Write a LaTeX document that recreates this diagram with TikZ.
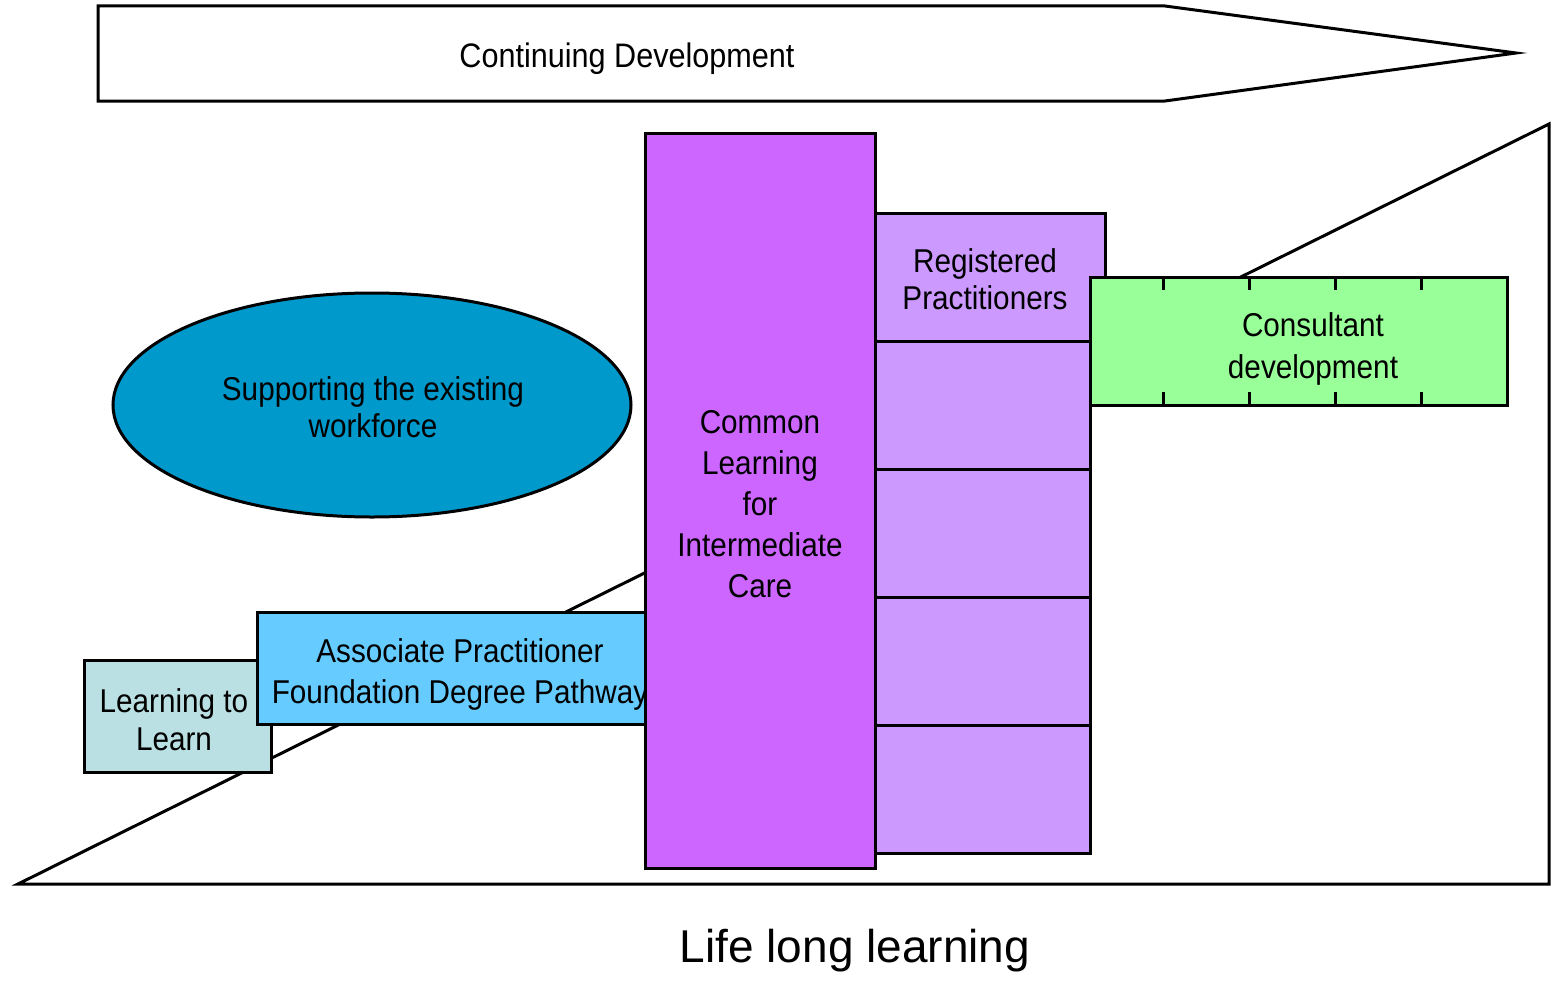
\documentclass[tikz,border=0pt]{standalone}
\usepackage{fontspec}
\setmainfont{Liberation Sans}[FakeStretch=0.9]
\newfontfamily\plainsans{Liberation Sans}
\usetikzlibrary{shapes.geometric}
\definecolor{clic}{HTML}{CC66FF}
\definecolor{regp}{HTML}{CC99FF}
\definecolor{cons}{HTML}{99FF99}
\definecolor{assoc}{HTML}{66CCFF}
\definecolor{ltl}{HTML}{BBE0E3}
\definecolor{supp}{HTML}{0099CC}
\newcommand\mylines[2]{{\fontsize{33}{#1}\selectfont\begin{tabular}[t]{@{}c@{}}#2\end{tabular}}}
\begin{document}
\begin{tikzpicture}[x=1pt,y=-1pt,
  outline/.style={draw=black,line width=3pt},
  cell/.style={outline, rectangle, inner sep=0pt, outer sep=0pt},
  lbl/.style={font=\fontsize{33}{40}\selectfont, align=center, inner sep=0pt, anchor=base},
  tick/.style={line width=3pt}
 ]
\useasboundingbox (0,0) rectangle (1552,990);
% background triangle (life long learning slope)
\draw[outline, line join=miter, miter limit=20] (18,884) -- (1549,884) -- (1549,124) -- cycle;
% continuing development arrow
\draw[outline, line join=miter, miter limit=20, fill=white]
  (98,6) -- (1165,6) -- (1516,53) -- (1165,101) -- (98,101) -- cycle;
\node[lbl, font=\fontsize{34}{40}\selectfont] (cd) at (627,67) {Continuing Development};
% registered practitioners column
\node[cell, fill=regp, minimum width=230pt, minimum height=128pt] (reg) at (990,277) {};
\node[cell, fill=regp, minimum width=215pt, minimum height=128pt] (r1) at (982.5,405) {};
\node[cell, fill=regp, minimum width=215pt, minimum height=128pt] (r2) at (982.5,533) {};
\node[cell, fill=regp, minimum width=215pt, minimum height=128pt] (r3) at (982.5,661) {};
\node[cell, fill=regp, minimum width=215pt, minimum height=128pt] (r4) at (982.5,789) {};
\node[lbl] (regt) at (985,272) {\mylines{37pt}{Registered\\Practitioners}};
% consultant development
\node[cell, fill=cons, minimum width=417pt, minimum height=128pt] (cons) at (1298.5,341) {};
\foreach \tx in {1163,1249,1335,1421}{
  \draw[tick] (\tx,277) -- (\tx,290);
  \draw[tick] (\tx,405) -- (\tx,392);
}
\node[lbl] (const) at (1313,336) {\mylines{42pt}{Consultant\\development}};
% learning to learn
\node[cell, fill=ltl, minimum width=187pt, minimum height=112pt] (ltl) at (177.5,716) {};
\node[lbl] (ltlt) at (174,712) {\mylines{38pt}{Learning to\\Learn}};
% associate practitioner
\node[cell, fill=assoc, minimum width=388pt, minimum height=112pt] (ap) at (451,668) {};
\node[lbl] (apt) at (460,662) {\mylines{41pt}{Associate Practitioner\\Foundation Degree Pathway}};
% common learning
\node[cell, fill=clic, minimum width=230pt, minimum height=735pt] (clic) at (760,500.5) {};
\node[lbl] (clict) at (760,433) {\mylines{41pt}{Common\\Learning\\for\\Intermediate\\Care}};
% supporting the existing workforce
\node[outline, ellipse, fill=supp, minimum width=518pt, minimum height=224pt, inner sep=0pt] (sup) at (372,405) {};
\node[lbl] (supt) at (373,400) {\mylines{37pt}{Supporting the existing\\workforce}};
% caption
\node[lbl, font=\plainsans\fontsize{46}{50}\selectfont] (cap) at (855,962) {Life long learning};
\end{tikzpicture}
\end{document}
